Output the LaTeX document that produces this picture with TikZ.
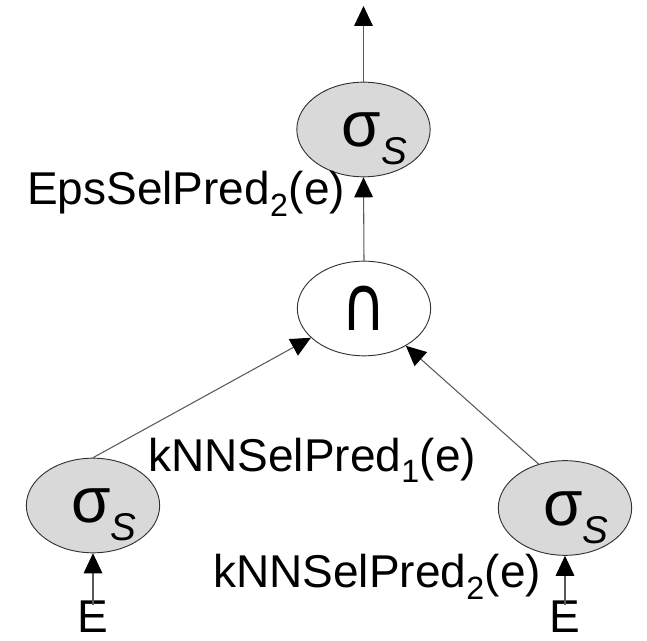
\documentclass[tikz,border=0pt]{standalone}
\usepackage{fontspec}
\setmainfont{Liberation Sans}
\newfontfamily\capfont{DejaVu Sans}
\usepackage{tikz}
\usetikzlibrary{shapes,arrows.meta,positioning}
\definecolor{opgray}{RGB}{217,217,217}
\definecolor{linegray}{RGB}{90,90,90}
\newcommand{\selop}{\raisebox{-13pt}[0pt][0pt]{\hspace*{16pt}{\fontsize{48}{48}\selectfont σ}\raisebox{-13.5pt}{\fontsize{29}{29}\selectfont\itshape S}}}

\begin{document}
\begin{tikzpicture}[
    x=0.75pt, y=-0.75pt,
    op/.style={ellipse, draw=black!80, line width=0.7pt, minimum width=100pt, minimum height=71pt, inner sep=0pt},
    sel/.style={op, fill=opgray},
    lbl/.style={font=\fontsize{34.5}{40}\selectfont, inner sep=0pt},
    arrow/.style={-{Triangle[length=15pt,width=14pt,color=black]}, draw=linegray, line width=0.8pt}
]
\useasboundingbox (0,0) rectangle (647,641);

% Operators
\node[sel] (top) at (363.5,129.5) {\selop};
\node[op] (cap) at (364,308.5) {\capfont\scalebox{1}[1.25]{\fontsize{46}{46}\selectfont ∩}};
\node[sel] (selL) at (93,505.5) {\selop};
\node[sel] (selR) at (565,508) {\selop};

% Inputs
\node[lbl, anchor=base] (inL) at (93,633) {E};
\node[lbl, anchor=base] (inR) at (565,633) {E};
\coordinate (out) at (363.5,6);

% Predicates
\node[lbl, anchor=base west] (eps) at (27,205) {EpsSelPred\textsubscript{2}(e)};
\node[lbl, anchor=base west] (knn1) at (148,472) {kNNSelPred\textsubscript{1}(e)};
\node[lbl, anchor=base west] (knn2) at (213,588) {kNNSelPred\textsubscript{2}(e)};

% Data flow
\draw[arrow] (inL.north) ++(0,-3pt) -- (selL.south);
\draw[arrow] (inR.north) ++(0,-3pt) -- (selR.south);
\draw[arrow] (selL.north) -- (cap);
\draw[arrow] (selR.121) -- (cap);
\draw[arrow] (cap.north) -- (top.south);
\draw[arrow] (top.north) -- (out);

\end{tikzpicture}
\end{document}
